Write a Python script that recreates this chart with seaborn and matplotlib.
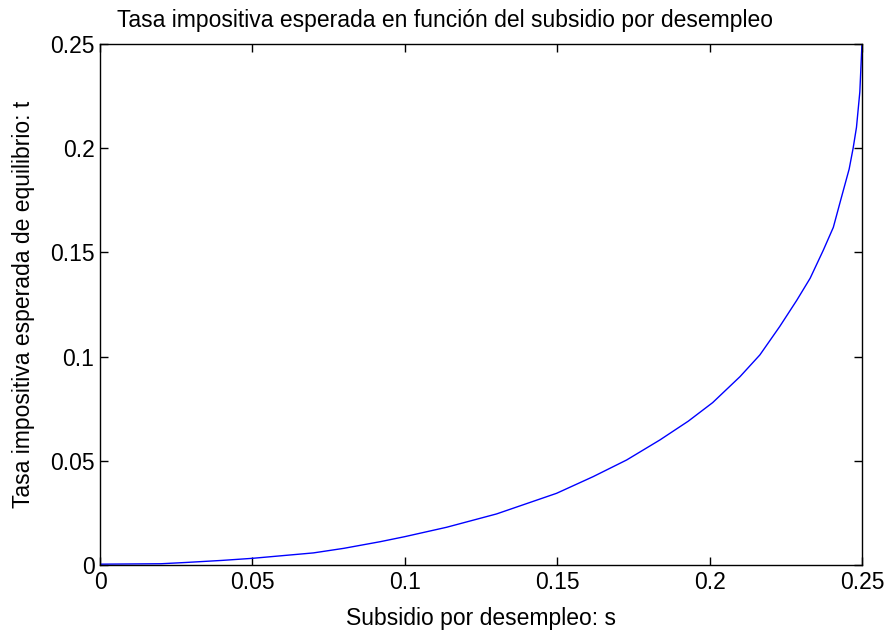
import matplotlib
matplotlib.use("Agg")
import matplotlib.pyplot as plt
import seaborn as sns
import pandas as pd

# Subsidio por desempleo (s) y tasa impositiva esperada de equilibrio (t)
subsidio = [0.000, 0.010, 0.020, 0.028, 0.040, 0.050, 0.060, 0.070, 0.080,
            0.092, 0.100, 0.1137, 0.1301, 0.1498, 0.1618, 0.1728, 0.1837,
            0.193, 0.201, 0.210, 0.2165, 0.223, 0.2286, 0.233, 0.2373,
            0.2406, 0.243, 0.2458, 0.2471, 0.2482, 0.2493, 0.2500]
tasa = [0.0004, 0.0005, 0.0006, 0.0012, 0.0022, 0.0032, 0.0045, 0.0058, 0.0080,
        0.0112, 0.0136, 0.0181, 0.0245, 0.0344, 0.0424, 0.0504, 0.0600,
        0.0690, 0.0779, 0.0904, 0.1008, 0.1144, 0.1270, 0.1376, 0.1510,
        0.1620, 0.1750, 0.1900, 0.2000, 0.2100, 0.2270, 0.2500]

ticks = [0, 0.05, 0.1, 0.15, 0.2, 0.25]
tick_labels = ["0", "0.05", "0.1", "0.15", "0.2", "0.25"]

df = pd.DataFrame({"s": subsidio, "t": tasa})

sns.set_style("ticks")
plt.rcParams["font.family"] = ["Liberation Sans", "DejaVu Sans"]
plt.rcParams["text.color"] = "black"
plt.rcParams["axes.labelcolor"] = "black"

fig = plt.figure(figsize=(8.9, 6.31), dpi=100)
ax = fig.add_axes([0.1124, 0.1046, 0.8561, 0.8257])

sns.lineplot(data=df, x="s", y="t", ax=ax, color="#0000ff", linewidth=1.0,
             estimator=None, sort=False)

ax.set_xlim(0, 0.25)
ax.set_ylim(0, 0.25)
ax.set_xticks(ticks)
ax.set_xticklabels(tick_labels)
ax.set_yticks(ticks)
ax.set_yticklabels(tick_labels)

for side in ["top", "right", "left", "bottom"]:
    ax.spines[side].set_visible(True)
    ax.spines[side].set_linewidth(1.0)
    ax.spines[side].set_color("black")

ax.tick_params(axis="both", which="both", direction="in", length=6, width=1,
               top=True, right=True, labelsize=16.5, colors="black", pad=4)

# Title centred on the whole figure
fig.text(0.5, 1 - 27 / 631, "Tasa impositiva esperada en función del subsidio por desempleo",
         ha="center", va="baseline", fontsize=16.5, color="black")
ax.set_xlabel("Subsidio por desempleo: s", fontsize=16.5, labelpad=9.5,
              color="black")
ax.set_ylabel("Tasa impositiva esperada de equilibrio: t", fontsize=16.5,
              labelpad=11, color="black")

fig.savefig("out.png", dpi=100, facecolor="white")
